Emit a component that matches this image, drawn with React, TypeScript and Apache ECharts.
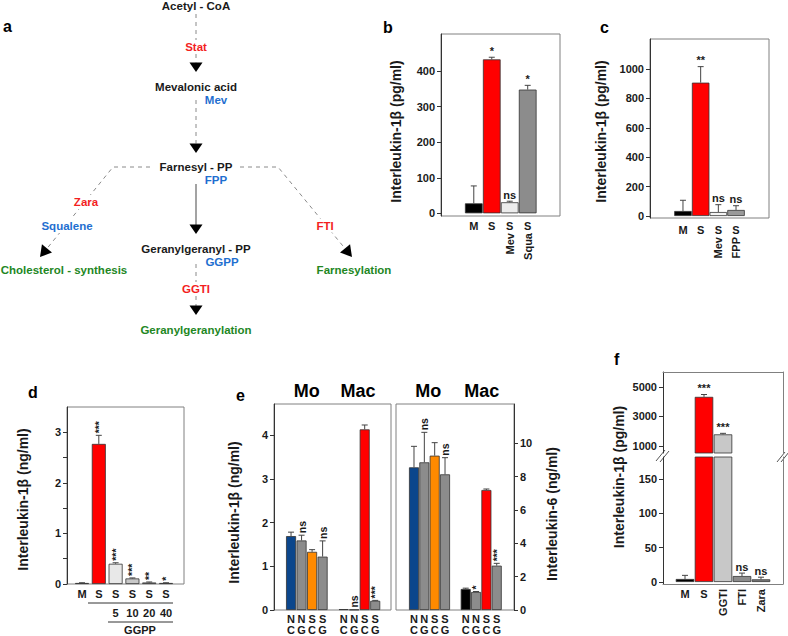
import React, { useEffect, useRef } from "react";
import * as echarts from "echarts";

const FONT = "'Liberation Sans', Arial, Helvetica, sans-serif";
const INK = "#1a1a1a";
const FRAME = "#808080";
const AXIS = "#333333";
const TXT_RED = "#f31f1f";
const TXT_BLUE = "#1f6fd0";
const TXT_GREEN = "#23871f";

// ---------- panel b ----------
const bCats = ["M", "S", "S", "S"];
const bSub = ["", "", "Mev", "Squa"];
const bMean = [28, 433, 31, 348];
const bErr = [49, 6, 3, 12];
const bSig = ["", "*", "ns", "*"];
const bColors = ["#000000", "#ff0000", "#ececec", "#8c8c8c"];
const bTicks = [0, 100, 200, 300, 400];

// ---------- panel c ----------
const cCats = ["M", "S", "S", "S"];
const cSub = ["", "", "Mev", "FPP"];
const cMean = [34, 907, 27, 41];
const cErr = [73, 109, 50, 29];
const cSig = ["", "**", "ns", "ns"];
const cColors = ["#000000", "#ff0000", "#f2f2f2", "#9a9a9a"];
const cTicks = [0, 200, 400, 600, 800, 1000];

// ---------- panel d ----------
const dCats = ["M", "S", "S", "S", "S", "S"];
const dDose = ["", "", "5", "10", "20", "40"];
const dMean = [0.02, 2.77, 0.4, 0.11, 0.03, 0.02];
const dErr = [0.005, 0.17, 0.02, 0.01, 0.01, 0.005];
const dSig = ["", "***", "***", "***", "**", "*"];
const dColors = ["#000000", "#ff0000", "#e8e8e8", "#c8c8c8", "#a8a8a8", "#8c8c8c"];
const dTicks = [0, 1, 2, 3];
const dTickMarks = [0, 0.5, 1, 1.5, 2, 2.5, 3];

// ---------- panel e ----------
const eGroups = ["Mo", "Mac"];
const eTop = ["N", "N", "S", "S"];
const eBot = ["C", "G", "C", "G"];
const eIL1Mo = [1.69, 1.59, 1.33, 1.22];
const eIL1MoErr = [0.09, 0.12, 0.05, 0.36];
const eIL1Mac = [0.02, 0.01, 4.13, 0.21];
const eIL1MacErr = [0, 0, 0.1, 0.01];
const eIL1Sig = ["", "ns", "", "ns", "", "ns", "", "***"];
const eIL6Mo = [8.56, 8.86, 9.26, 8.14];
const eIL6MoErr = [1.26, 1.8, 0.78, 1.0];
const eIL6Mac = [1.26, 1.08, 7.2, 2.66];
const eIL6MacErr = [0.05, 0.03, 0.06, 0.14];
const eIL6Sig = ["", "ns", "", "ns", "", "*", "", "***"];
const eMoColors = ["#0b468c", "#8c8c8c", "#ff8a00", "#8c8c8c"];
const eMacColors = ["#000000", "#8c8c8c", "#ff0000", "#8c8c8c"];
const eIL1Ticks = [0, 1, 2, 3, 4];
const eIL6Ticks = [0, 2, 4, 6, 8, 10];

// ---------- panel f ----------
const fCats = ["M", "S", "GGTI", "FTI", "Zara"];
const fMean = [4.4, 4330, 1780, 8.7, 3.9];
const fErr = [5.3, 160, 70, 4.3, 3.1];
const fSig = ["", "***", "***", "ns", "ns"];
const fColors = ["#000000", "#ff0000", "#c8c8c8", "#8c8c8c", "#7c7c7c"];
const fTopTicks = [1000, 3000, 5000];
const fBotTicks = [0, 50, 100, 150];

// ---------- helpers ----------
const lbl = { fontSize: 11, fontWeight: "bold", fontFamily: FONT, color: INK };
const nameStyle = { fontSize: 14, fontWeight: "bold", fontFamily: FONT, color: INK };
const idx = (arr: any[]) => arr.map((_, i) => i + 1);

function xAx(gridIndex: number, min: number, max: number, values: number[], labels: string[], extra: any = {}) {
  const { axisLabel, ...rest } = extra;
  return {
    type: "value", gridIndex, min, max, position: "bottom",
    axisLine: { show: false, onZero: false },
    axisTick: { show: false },
    splitLine: { show: false },
    axisLabel: {
      ...lbl, margin: 3, customValues: values,
      formatter: (v: number) => { const k = values.indexOf(v); return k >= 0 ? labels[k] : ""; },
      ...(axisLabel || {}),
    },
    ...rest,
  };
}

function yAx(gridIndex: number, min: number, max: number, ticks: number[], name: string, nameGap: number, shift: number, extra: any = {}) {
  const { axisTick, ...rest } = extra;
  return {
    type: "value", gridIndex, min, max, position: "left",
    name, nameLocation: "middle", nameRotate: 90, nameGap,
    nameTextStyle: { ...nameStyle, padding: shift >= 0 ? [0, shift * 2, 0, 0] : [0, 0, 0, -shift * 2] },
    axisLine: { show: true, onZero: false, lineStyle: { color: AXIS, width: 1 } },
    axisTick: { show: true, length: 4, customValues: ticks, lineStyle: { color: AXIS }, ...(axisTick || {}) },
    axisLabel: { ...lbl, margin: 6, customValues: ticks, formatter: (v: number) => String(v) },
    splitLine: { show: false },
    ...rest,
  };
}

function lineAx(gridIndex: number, position: string) {
  return {
    type: "value", gridIndex, position,
    axisLine: { show: true, onZero: false, lineStyle: { color: FRAME } },
    axisTick: { show: false }, axisLabel: { show: false }, splitLine: { show: false },
  };
}

function bars(ax: number, ay: number, xs: number[], vals: number[], colors: string[], width: number) {
  return {
    type: "bar", xAxisIndex: ax, yAxisIndex: ay, barWidth: width, clip: true, silent: true,
    itemStyle: { borderColor: "#333333", borderWidth: 0.8 },
    data: xs.map((x, i) => ({ value: [x, vals[i]], itemStyle: { color: colors[i] } })),
  };
}

function errs(ax: number, ay: number, xs: number[], vals: number[], e: number[], sigs: string[], rot: boolean, keep?: (i: number) => boolean) {
  const data = xs.map((x, i) => [x, vals[i], e[i], i]).filter((_, i) => (keep ? keep(i) : true));
  return {
    type: "custom", xAxisIndex: ax, yAxisIndex: ay, silent: true, z: 5, clip: false,
    data,
    renderItem: (params: any, api: any) => {
      const x = api.value(0), v = api.value(1), er = api.value(2), k = api.value(3);
      const p0 = api.coord([x, v]);
      const p1 = api.coord([x, v + er]);
      const ch: any[] = [];
      if (er > 0) {
        ch.push({ type: "line", shape: { x1: p0[0], y1: p0[1], x2: p1[0], y2: p1[1] }, style: { stroke: "#444", lineWidth: 1 } });
        ch.push({ type: "line", shape: { x1: p1[0] - 3, y1: p1[1], x2: p1[0] + 3, y2: p1[1] }, style: { stroke: "#444", lineWidth: 1 } });
      }
      const s = sigs[k];
      if (s) {
        if (rot) {
          ch.push({
            type: "text", x: p1[0], y: p1[1] - 2, rotation: Math.PI / 2,
            style: { text: s, x: 0, y: 0, align: "left", verticalAlign: "middle", fontSize: 10.5, fontWeight: "bold", fontFamily: FONT, fill: INK },
          });
        } else {
          ch.push({
            type: "text",
            style: { text: s, x: p1[0], y: p1[1] - 1, align: "center", verticalAlign: "bottom", fontSize: 11, fontWeight: "bold", fontFamily: FONT, fill: INK },
          });
        }
      }
      return { type: "group", children: ch };
    },
  };
}

function txt(text: string, x: number, y: number, fill: string, size = 11.5, extra: any = {}, align = "center") {
  return {
    type: "text", x, y, silent: true, z: 10,
    style: { text, align, verticalAlign: "middle", fill, fontSize: size, fontWeight: "bold", fontFamily: FONT, ...extra },
  };
}
const dash = { stroke: "#8a8a8a", lineWidth: 1, lineDash: [4, 4] };
function dline(pts: number[][]) {
  return { type: "polyline", silent: true, z: 5, shape: { points: pts }, style: { ...dash, fill: null } };
}
function arrowDown(x: number, tip: number) {
  return { type: "polygon", silent: true, z: 6, shape: { points: [[x - 6.5, tip - 9.5], [x + 6.5, tip - 9.5], [x, tip]] }, style: { fill: "#000" } };
}
function arrowDir(tx: number, ty: number, dx: number, dy: number) {
  const L = Math.hypot(dx, dy); const ux = dx / L, uy = dy / L;
  const bx = tx - 11 * ux, by = ty - 11 * uy; const px = -uy, py = ux;
  return { type: "polygon", silent: true, z: 6, shape: { points: [[tx, ty], [bx + 6.5 * px, by + 6.5 * py], [bx - 6.5 * px, by - 6.5 * py]] }, style: { fill: "#000" } };
}
const bg = { backgroundColor: "#ffffff", padding: [1, 1] };

function buildOption() {
  const bX = idx(bCats), cX = idx(cCats), dX = idx(dCats), fX = idx(fCats);
  const eX = eGroups.flatMap((_, g) => eTop.map((__, i) => g * (eTop.length + 1) + i + 1));
  const eLabels = eGroups.flatMap(() => eTop.map((t, i) => t + "\n" + eBot[i]));
  const eColors = [...eMoColors, ...eMacColors];
  const e1 = [...eIL1Mo, ...eIL1Mac], e1e = [...eIL1MoErr, ...eIL1MacErr];
  const e6 = [...eIL6Mo, ...eIL6Mac], e6e = [...eIL6MoErr, ...eIL6MacErr];
  const fTopMin = 513;

  const grid = [
    { left: 441, top: 34, width: 119, height: 182, show: true, borderColor: FRAME, borderWidth: 1 },
    { left: 650, top: 39, width: 119, height: 179, show: true, borderColor: FRAME, borderWidth: 1 },
    { left: 67, top: 407, width: 117, height: 177, show: true, borderColor: FRAME, borderWidth: 1 },
    { left: 274, top: 404, width: 117, height: 206, show: true, borderColor: FRAME, borderWidth: 1 },
    { left: 396, top: 404, width: 118, height: 206, show: true, borderColor: FRAME, borderWidth: 1 },
    { left: 663, top: 372, width: 120, height: 81, show: false },
    { left: 663, top: 457, width: 120, height: 127, show: false },
  ];

  const xAxis = [
    xAx(0, -0.825, 5.797, bX, bCats, { axisLabel: { margin: 4 } }), // 0
    xAx(0, -0.825, 5.797, bX, bSub, { offset: 14, axisLabel: { rotate: 90, margin: 3 } }), // 1
    xAx(1, -0.864, 5.864, cX, cCats, { axisLabel: { margin: 6 } }), // 2
    xAx(1, -0.864, 5.864, cX, cSub, { offset: 15, axisLabel: { rotate: 90, margin: 4 } }), // 3
    xAx(2, 0.107, 7.07, dX, dCats, { axisLabel: { margin: 4 } }), // 4
    xAx(2, 0.107, 7.07, dX, dDose, { offset: 19, axisLabel: { margin: 4 } }), // 5
    xAx(3, -0.62, 10.5, eX, eLabels, { axisLabel: { margin: 3, lineHeight: 11 } }), // 6
    xAx(4, -0.74, 10.67, eX, eLabels, { axisLabel: { margin: 3, lineHeight: 11 } }), // 7
    { ...lineAx(5, "top"), min: -0.158, max: 6.158 }, // 8
    xAx(6, -0.158, 6.158, [1, 2], fCats.slice(0, 2), { axisLine: { show: true, onZero: false, lineStyle: { color: FRAME } }, axisLabel: { margin: 4 } }), // 9
    xAx(6, -0.158, 6.158, [3, 4, 5], fCats.slice(2), { axisLabel: { rotate: 90, margin: 5 } }), // 10
  ];

  const yAxis = [
    yAx(0, -7.6, 504.4, bTicks, "Interleukin-1β (pg/ml)", 38.5, 6.5), // 0
    yAx(1, -13.6, 1204, cTicks, "Interleukin-1β (pg/ml)", 42.5, 3), // 1
    yAx(2, 0, 3.5, dTicks, "Interleukin-1β (ng/ml)", 37.5, 4, { axisTick: { customValues: dTickMarks } }), // 2
    yAx(3, 0, 4.71, eIL1Ticks, "Interleukin-1β (ng/ml)", 33.5, 5.5), // 3
    yAx(4, 0, 12.36, eIL6Ticks, "Interleukin-6 (ng/ml)", 31, 7, { position: "right" }), // 4
    yAx(5, fTopMin, 6020, fTopTicks, "", 0, 0), // 5
    { ...lineAx(5, "right"), min: fTopMin, max: 6020 }, // 6
    yAx(6, -2.9, 182, fBotTicks, "", 0, 0), // 7
    { ...lineAx(6, "right"), min: -2.9, max: 182 }, // 8
  ];

  const series = [
    bars(0, 0, bX, bMean, bColors, 17.7),
    errs(0, 0, bX, bMean, bErr, bSig, false),
    bars(2, 1, cX, cMean, cColors, 17.5),
    errs(2, 1, cX, cMean, cErr, cSig, false),
    bars(4, 2, dX, dMean, dColors, 14),
    errs(4, 2, dX, dMean, dErr, dSig, true),
    bars(6, 3, eX, e1, eColors, 10),
    errs(6, 3, eX, e1, e1e, eIL1Sig, true),
    bars(7, 4, eX, e6, eColors, 10),
    errs(7, 4, eX, e6, e6e, eIL6Sig, true),
    bars(8, 5, fX, fMean, fColors, 18.5),
    errs(8, 5, fX, fMean, fErr, fSig, false, (i) => fMean[i] > fTopMin),
    bars(9, 7, fX, fMean, fColors, 18.5),
    errs(9, 7, fX, fMean, fErr, fSig, false, (i) => fMean[i] <= fTopMin),
  ];

  const graphic: any[] = [
    // panel letters
    txt("a", 3, 26, "#000", 16, {}, "left"),
    txt("b", 383, 27.5, "#000", 16, {}, "left"),
    txt("c", 600, 27.5, "#000", 16, {}, "left"),
    txt("d", 28, 392.5, "#000", 16, {}, "left"),
    txt("e", 236, 395, "#000", 16, {}, "left"),
    txt("f", 614, 359, "#000", 16, {}, "left"),
    // panel e headers
    txt(eGroups[0], 306.7, 390.5, "#000", 18),
    txt(eGroups[1], 358, 390.5, "#000", 18),
    txt(eGroups[0], 428.3, 390.5, "#000", 18),
    txt(eGroups[1], 481.7, 390.5, "#000", 18),
    // panel d group annotation
    { type: "line", silent: true, shape: { x1: 88, y1: 603, x2: 173, y2: 603 }, style: { stroke: "#333", lineWidth: 1 } },
    { type: "line", silent: true, shape: { x1: 108, y1: 622, x2: 173, y2: 622 }, style: { stroke: "#333", lineWidth: 1 } },
    txt("GGPP", 140, 630, INK, 11),
    // panel f title and axis breaks
    { type: "text", x: 618.5, y: 477, rotation: Math.PI / 2, silent: true, style: { text: "Interleukin-1β (pg/ml)", align: "center", verticalAlign: "middle", fill: INK, fontSize: 14, fontWeight: "bold", fontFamily: FONT } },
    { type: "line", silent: true, shape: { x1: 656, y1: 461, x2: 665, y2: 450 }, style: { stroke: "#555", lineWidth: 1 } },
    { type: "line", silent: true, shape: { x1: 660, y1: 462, x2: 669, y2: 451 }, style: { stroke: "#555", lineWidth: 1 } },
    { type: "line", silent: true, shape: { x1: 777, y1: 462, x2: 785, y2: 452 }, style: { stroke: "#555", lineWidth: 1 } },
    { type: "line", silent: true, shape: { x1: 781, y1: 462, x2: 789, y2: 452 }, style: { stroke: "#555", lineWidth: 1 } },
    // panel a pathway
    dline([[196, 14], [196, 62.5]]),
    arrowDown(196, 72),
    dline([[196, 100], [196, 143.5]]),
    arrowDown(196, 153),
    dline([[150, 167], [113, 167], [47, 248.5]]),
    dline([[240, 167], [278, 167], [345, 248.5]]),
    arrowDir(40, 257, -68, 83),
    arrowDir(352, 257, 68, 83),
    { type: "line", silent: true, z: 5, shape: { x1: 196, y1: 184, x2: 196, y2: 225 }, style: { stroke: "#666", lineWidth: 1.2 } },
    arrowDown(196, 234),
    dline([[196, 264], [196, 306]]),
    arrowDown(196, 315),
    txt("Acetyl - CoA", 196, 6, INK),
    txt("Stat", 196, 47, TXT_RED, 11.5, bg),
    txt("Mevalonic acid", 196, 87, INK),
    txt("Mev", 216, 100, TXT_BLUE),
    txt("Farnesyl - PP", 196, 167, INK),
    txt("FPP", 216, 180, TXT_BLUE),
    txt("Zara", 86, 202, TXT_RED, 11.5, bg),
    txt("Squalene", 67, 226, TXT_BLUE, 11.5, bg),
    txt("Cholesterol - synthesis", 64, 269.5, TXT_GREEN),
    txt("Geranylgeranyl - PP", 196, 248.5, INK),
    txt("GGPP", 222, 262, TXT_BLUE),
    txt("GGTI", 196, 289, TXT_RED, 11.5, bg),
    txt("Geranylgeranylation", 196, 329.5, TXT_GREEN),
    txt("FTI", 325, 225.5, TXT_RED, 11.5, bg),
    txt("Farnesylation", 354, 270, TXT_GREEN),
  ];

  return { animation: false, backgroundColor: "#ffffff", grid, xAxis, yAxis, series, graphic };
}

export default function App() {
  const ref = useRef<HTMLDivElement>(null);
  useEffect(() => {
    const chart = echarts.init(ref.current!, null, { renderer: "svg" });
    chart.setOption(buildOption() as any);
    return () => chart.dispose();
  }, []);
  return (
    <div
      ref={ref}
      style={{ position: "absolute", left: 0, top: 0, width: 788, height: 636, background: "#fff" }}
    />
  );
}
